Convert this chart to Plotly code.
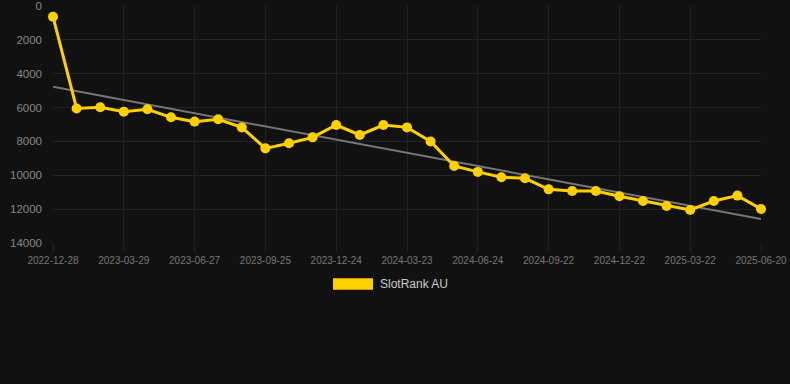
import plotly.graph_objects as go

dates = [
    "2022-12-28", "2023-01-27", "2023-02-26", "2023-03-29", "2023-04-28", "2023-05-28",
    "2023-06-27", "2023-07-27", "2023-08-26", "2023-09-25", "2023-10-25", "2023-11-24",
    "2023-12-24", "2024-01-23", "2024-02-22", "2024-03-23", "2024-04-23", "2024-05-24",
    "2024-06-24", "2024-07-24", "2024-08-23", "2024-09-22", "2024-10-22", "2024-11-21",
    "2024-12-22", "2025-01-21", "2025-02-20", "2025-03-22", "2025-04-21", "2025-05-21",
    "2025-06-20",
]
rank_au = [
    630, 6050, 5980, 6240, 6100, 6575, 6830, 6690, 7170, 8410, 8110, 7760,
    7030, 7620, 7030, 7170, 8000, 9450, 9800, 10120, 10180, 10830, 10930, 10930,
    11240, 11520, 11810, 12050, 11520, 11200, 11990,
]
trend_dates = [dates[0], dates[-1]]
trend_values = [4770, 12580]
tick_labels = dates[::3]
y_ticks = [0, 2000, 4000, 6000, 8000, 10000, 12000, 14000]
y_tick_labels = [str(v) for v in y_ticks]
series_name = "SlotRank AU"

YELLOW = "#FFD000"
BG = "#111111"
GRID = "#222222"
FONT = "Liberation Sans, Arial, sans-serif"

fig = go.Figure()
fig.add_trace(go.Scatter(
    x=trend_dates, y=trend_values, mode="lines",
    line=dict(color="#777777", width=2), showlegend=False, hoverinfo="skip",
))
fig.add_trace(go.Scatter(
    x=dates, y=rank_au, mode="lines+markers", name=series_name,
    line=dict(color=YELLOW, width=3),
    marker=dict(color=YELLOW, size=10),
    cliponaxis=False, showlegend=False,
))

fig.update_layout(
    width=790, height=384,
    margin=dict(l=53, r=29, t=6, b=141, autoexpand=False),
    paper_bgcolor=BG, plot_bgcolor=BG,
    font=dict(family=FONT),
    showlegend=False,
)
fig.update_xaxes(
    type="category", categoryorder="array", categoryarray=dates,
    range=[0, len(dates) - 1], automargin=False,
    tickmode="array", tickvals=tick_labels, ticktext=tick_labels,
    showgrid=True, gridcolor=GRID, gridwidth=1,
    tickfont=dict(size=10, color="#777777"),
    ticks="outside", ticklen=8, tickcolor=GRID,
    showline=False, zeroline=False,
)
fig.update_yaxes(
    range=[14000, 0], automargin=False,
    tickmode="array", tickvals=y_ticks, ticktext=y_tick_labels,
    showgrid=True, gridcolor=GRID, gridwidth=1,
    tickfont=dict(size=11.5, color="#888888"),
    ticks="", ticklabelstandoff=10, zeroline=False, showline=False,
)

# legend box and label
fig.add_shape(type="rect", xref="paper", yref="paper",
              x0=(333 - 53) / 708, x1=(373 - 53) / 708,
              y0=(243 - 289.7) / 237, y1=(243 - 278.3) / 237,
              fillcolor=YELLOW, line=dict(width=0))
fig.add_annotation(xref="paper", yref="paper",
                   x=(378 - 53) / 708, y=(243 - 284) / 237,
                   xanchor="left", yanchor="middle", showarrow=False,
                   text=series_name, font=dict(size=12, color="#cccccc", family=FONT))

fig.write_html("out.html", config={"displayModeBar": False})
with open("out.html", "r", encoding="utf-8") as f:
    html = f.read()
html = html.replace("<head>", "<head><style>html,body{margin:0;padding:0;background:#111111;overflow:hidden;}</style>", 1)
with open("out.html", "w", encoding="utf-8") as f:
    f.write(html)
